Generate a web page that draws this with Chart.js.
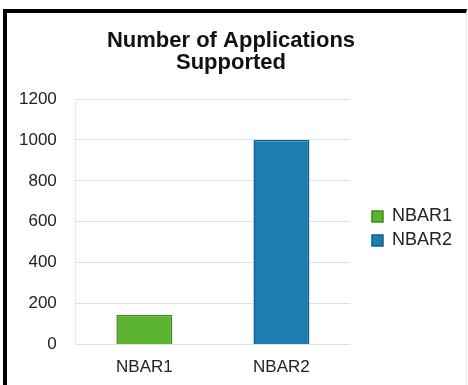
<!DOCTYPE html>
<html>
<head>
<meta charset="utf-8">
<script src="https://cdn.jsdelivr.net/npm/chart.js@4"></script>
<style>
	html, body { margin: 0; padding: 0; background: #fff; overflow: hidden; }
	#wrap { position: relative; width: 468px; height: 385px; overflow: hidden; }
	#frame { position: absolute; left: 3px; top: 9px; width: 459px; height: 380px;
		border-left: 4px solid #000; border-top: 4px solid #000; border-right: 1px solid #e6e6e6;
		pointer-events: none; }
	#myChart { position: absolute; left: 0; top: 0; }
</style>
</head>
<body>
<div id="wrap">
	<canvas id="myChart" width="468" height="391"></canvas>
	<div id="frame"></div>
</div>
<script>
var categories = ['NBAR1', 'NBAR2'];
var nbar1Values = [145, null];
var nbar2Values = [null, 1000];
var yTicks = [0, 200, 400, 600, 800, 1000, 1200];

Chart.defaults.font.family = "'Liberation Sans', Arial, sans-serif";
Chart.defaults.color = '#222';

// leave a gap between the plot and the legend, and nudge the legend items down
var legendGap = {
	id: 'legendGap',
	afterInit: function(chart) {
		var legend = chart.legend
		var fit = legend.fit
		var draw = legend.draw
		legend.fit = function() {
			fit.call(this)
			this.width += 16
		}
		legend.draw = function() {
			this.ctx.save()
			this.ctx.translate(16, 18)
			draw.call(this)
			this.ctx.restore()
		}
	}
};

var myChart = new Chart(document.getElementById("myChart"), {
	type: 'bar',
	data: {
		labels: categories,
		datasets: [{
			label: 'NBAR1',
			data: nbar1Values,
			backgroundColor: '#5bb32f',
			borderColor: '#3e8a1e',
			borderWidth: 1.5,
			skipNull: true
		}, {
			label: 'NBAR2',
			data: nbar2Values,
			backgroundColor: '#1b7db0',
			borderColor: '#115f8a',
			borderWidth: 1.5,
			skipNull: true
		}]
	},
	plugins: [legendGap],
	options: {
		responsive: false,
		animation: false,
		categoryPercentage: 0.8,
		barPercentage: 0.51,
		layout: {
			padding: { top: 30, left: 0, right: 6, bottom: 0 }
		},
		plugins: {
			title: {
				display: true,
				text: ['Number of Applications', 'Supported'],
				color: '#111',
				font: { size: 22, weight: 'bold', lineHeight: 1.0 },
				padding: { top: 0, bottom: 25 }
			},
			legend: {
				position: 'right',
				labels: {
					boxWidth: 11,
					boxHeight: 11,
					padding: 6,
					color: '#222',
					font: { size: 18 }
				}
			},
			tooltip: { enabled: false }
		},
		scales: {
			x: {
				grid: { display: false, drawTicks: false },
				border: { color: '#d8e2ea' },
				ticks: { font: { size: 17 }, color: '#222', padding: 13 }
			},
			y: {
				min: 0,
				max: 1200,
				afterBuildTicks: function(axis) {
					axis.ticks = yTicks.map(function(v) { return { value: v } })
				},
				grid: { color: '#d8e2ea', drawTicks: false },
				border: { color: '#e2e8ee' },
				ticks: { font: { size: 17 }, color: '#222', padding: 19, callback: function(v) { return v } }
			}
		}
	}
});
</script>
</body>
</html>
